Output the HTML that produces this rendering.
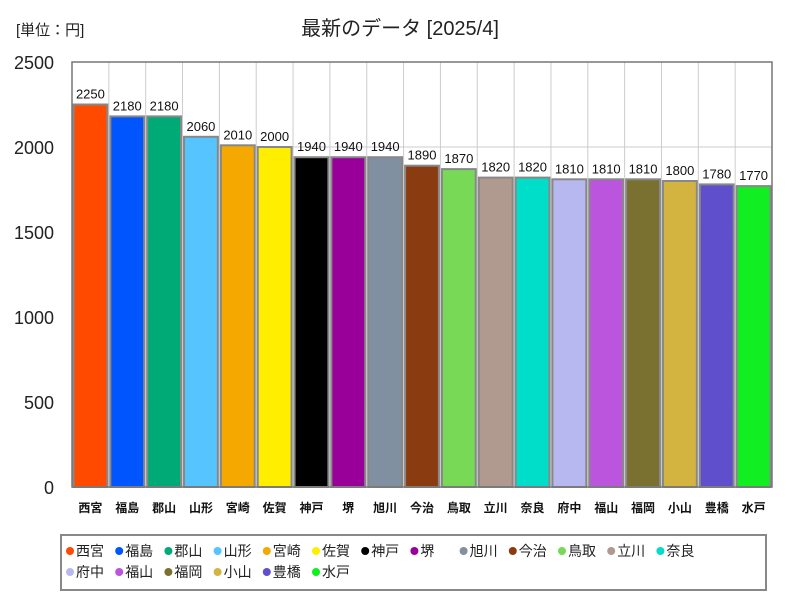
<!DOCTYPE html>
<html><head><meta charset="utf-8"><style>
body{margin:0;background:#fff;font-family:"Liberation Sans","Noto Sans CJK JP",sans-serif;}
svg text{font-family:"Liberation Sans","Noto Sans CJK JP",sans-serif;}
</style></head><body>
<svg id="c" width="800" height="600" xmlns="http://www.w3.org/2000/svg">
<text x="400" y="35" font-size="20" text-anchor="middle" fill="#222">最新のデータ [2025/4]</text>
<text x="16" y="35" font-size="15" fill="#222">[単位：円]</text>
<g id="grid"></g><g id="bars"></g><g id="axes"></g>
<rect x="61" y="535" width="705" height="55" fill="none" stroke="#888" stroke-width="2"/>
<g id="legend"></g>
</svg>
<script>
const categories=["西宮","福島","郡山","山形","宮崎","佐賀","神戸","堺","旭川","今治","鳥取","立川","奈良","府中","福山","福岡","小山","豊橋","水戸"];
const values=[2250,2180,2180,2060,2010,2000,1940,1940,1940,1890,1870,1820,1820,1810,1810,1810,1800,1780,1770];
const colors=["#ff4a00","#0055ff","#00aa77","#55c4ff","#f5a800","#ffee00","#000000","#990099","#8090a0","#8a3c10","#77d955","#b09a90","#00ddc8","#b8b8f0","#bb55dd","#7a7030","#d4b440","#5f4fcc","#11ee22"];
const yTicks=[0,500,1000,1500,2000,2500];
const NS="http://www.w3.org/2000/svg";
const L=72,R=772,T=62,B=487,yMax=2500;
const y=v=>B-(v/yMax)*(B-T);
const slot=(R-L)/categories.length;
const x=i=>L+i*slot;
function mk(tag,attrs,parent){const e=document.createElementNS(NS,tag);for(const k in attrs)e.setAttribute(k,attrs[k]);document.getElementById(parent).appendChild(e);return e;}
yTicks.forEach(t=>{
  const g=mk('line',{x1:L,x2:R,y1:y(t),y2:y(t),stroke:'#ccc','stroke-width':1},'grid');
  
  
  const tx=mk('text',{x:54,y:y(t)+7,'font-size':18,'text-anchor':'end',fill:'#222'},'axes');
  tx.textContent=t;
  
  
});
categories.forEach((c,i)=>{
  const vl=mk('line',{x1:x(i),x2:x(i),y1:T,y2:B,stroke:'#ccc','stroke-width':1},'grid');
  
  
  const b=mk('rect',{x:x(i)+1.5,y:y(values[i]),width:slot-3,height:B-y(values[i]),fill:colors[i],stroke:'#888','stroke-width':2},'bars');
  
  
  const vt=mk('text',{x:x(i)+slot/2,y:y(values[i])-6,'font-size':13,'text-anchor':'middle',fill:'#111'},'bars');
  vt.textContent=values[i];
  
  
  const ct=mk('text',{x:x(i)+slot/2,y:512,'font-size':12,'font-weight':'bold','text-anchor':'middle',fill:'#111'},'axes');
  ct.textContent=c;
  
  
  const row=i<13?0:1, col=i<13?i:i-13;
  const lx=66+col*49.2, ly=row?572:551;
  const dot=mk('circle',{cx:lx+4,cy:ly,r:4,fill:colors[i]},'legend');
  
  
  const lt=mk('text',{x:lx+10,y:ly+5,'font-size':14,fill:'#222'},'legend');
  lt.textContent=c;
  
  
});
const fr=mk('rect',{x:L,y:T,width:R-L,height:B-T,fill:'none',stroke:'#777','stroke-width':1.5},'axes');


</script>
</body></html>
